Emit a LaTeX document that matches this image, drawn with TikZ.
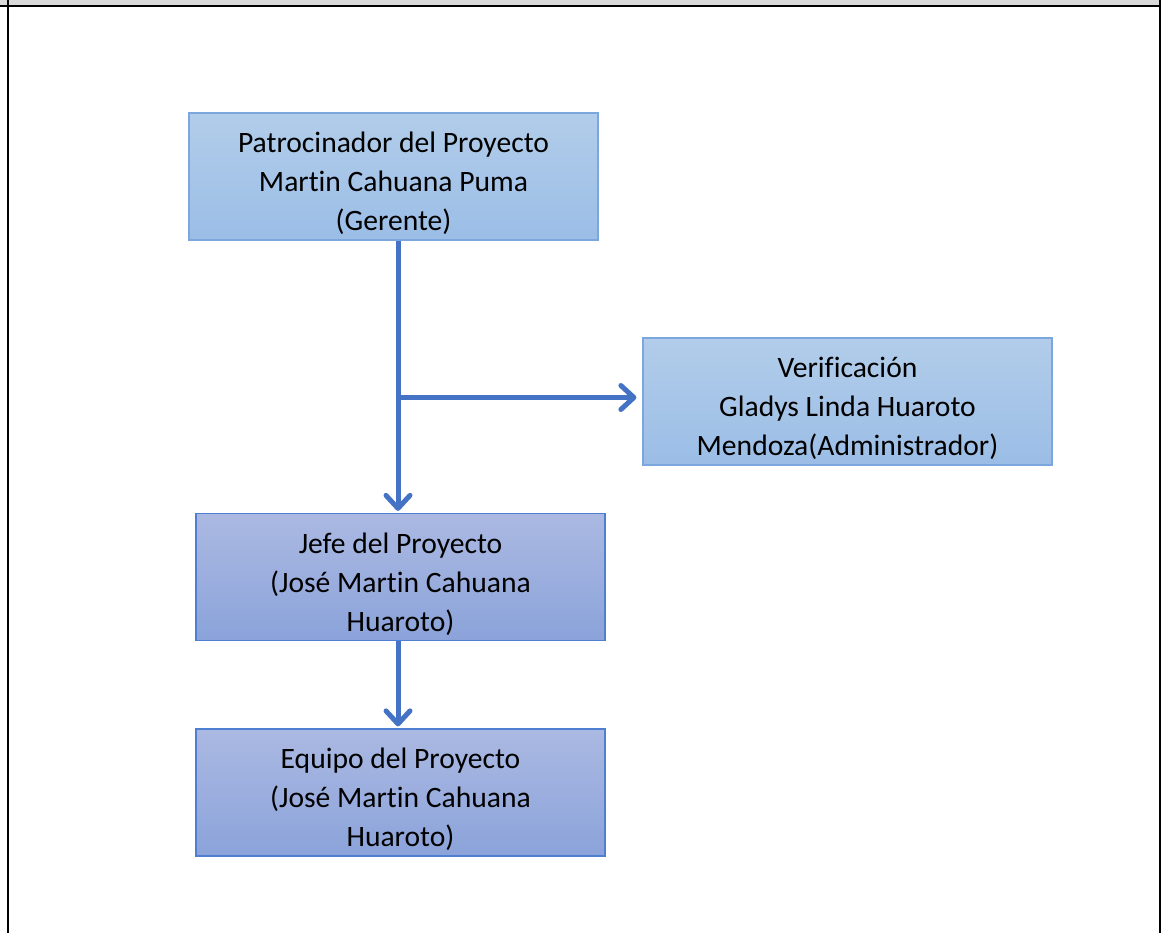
\documentclass[tikz,border=0pt]{standalone}
\usepackage{fontspec}
\setmainfont[Ligatures={NoCommon}]{Carlito}
\usetikzlibrary{arrows.meta}
\definecolor{lineblue}{HTML}{4472C4}
\definecolor{lighttop}{HTML}{B2CDEA}
\definecolor{lightbot}{HTML}{9BBDE6}
\definecolor{lightedge}{HTML}{7BA7DE}
\definecolor{darktop}{HTML}{ABB9E2}
\definecolor{darkbot}{HTML}{8BA3DA}
\definecolor{darkedge}{HTML}{4F7FD3}
\definecolor{bandgrey}{HTML}{D9D9D9}
\tikzset{
  box/.style={rectangle, minimum width=409pt, minimum height=127pt,
    inner sep=0pt, line width=1.2pt},
  lightbox/.style={box, draw=lightedge, top color=lighttop, bottom color=lightbot},
  darkbox/.style={box, draw=darkedge, top color=darktop, bottom color=darkbot},
  boxtext/.style={align=center, inner sep=0pt, text=black,
    font=\fontsize{29.6}{39}\selectfont},
  link/.style={draw=lineblue, line width=5pt},
  arrowlink/.style={link, -{Straight Barb[length=13pt,width=24pt,round]}},
}
\begin{document}
\begin{tikzpicture}[x=1pt, y=-1pt]
  \useasboundingbox (0,0) rectangle (1162,933);
  % page frame
  \fill[bandgrey] (0,0) rectangle (1159,4.7);
  \draw[line width=2pt] (0,5.7) -- (1160,5.7);
  \draw[line width=2pt] (7.7,0) -- (7.7,933);
  \draw[line width=2pt] (1160,0) -- (1160,933);

  % boxes
  \node[lightbox] (p) at (393.5,176.5) {};
  \node[lightbox] (v) at (847.5,401.5) {};
  \node[darkbox] (j) at (400.5,577) {};
  \node[darkbox] (e) at (400.5,792.5) {};

  % box texts
  \node[boxtext] (pt) at ([yshift=-7pt]p.center) {Patrocinador del Proyecto\\Martin Cahuana Puma\\(Gerente)};
  \node[boxtext] (vt) at ([yshift=-7pt]v.center) {Verificación\\Gladys Linda Huaroto\\Mendoza(Administrador)};
  \node[boxtext] (jt) at ([yshift=-7pt]j.center) {Jefe del Proyecto\\(José Martin Cahuana\\Huaroto)};
  \node[boxtext] (et) at ([yshift=-7pt]e.center) {Equipo del Proyecto\\(José Martin Cahuana\\Huaroto)};

  % connectors
  \coordinate (jn) at (398,397.5);
  \draw[arrowlink, shorten >=2pt] (p.south -| jn) -- (j.north -| jn);
  \draw[arrowlink, shorten >=6pt] (jn) -- (v.west |- jn);
  \draw[arrowlink, shorten >=2pt] (j.south -| jn) -- (e.north -| jn);
\end{tikzpicture}
\end{document}
